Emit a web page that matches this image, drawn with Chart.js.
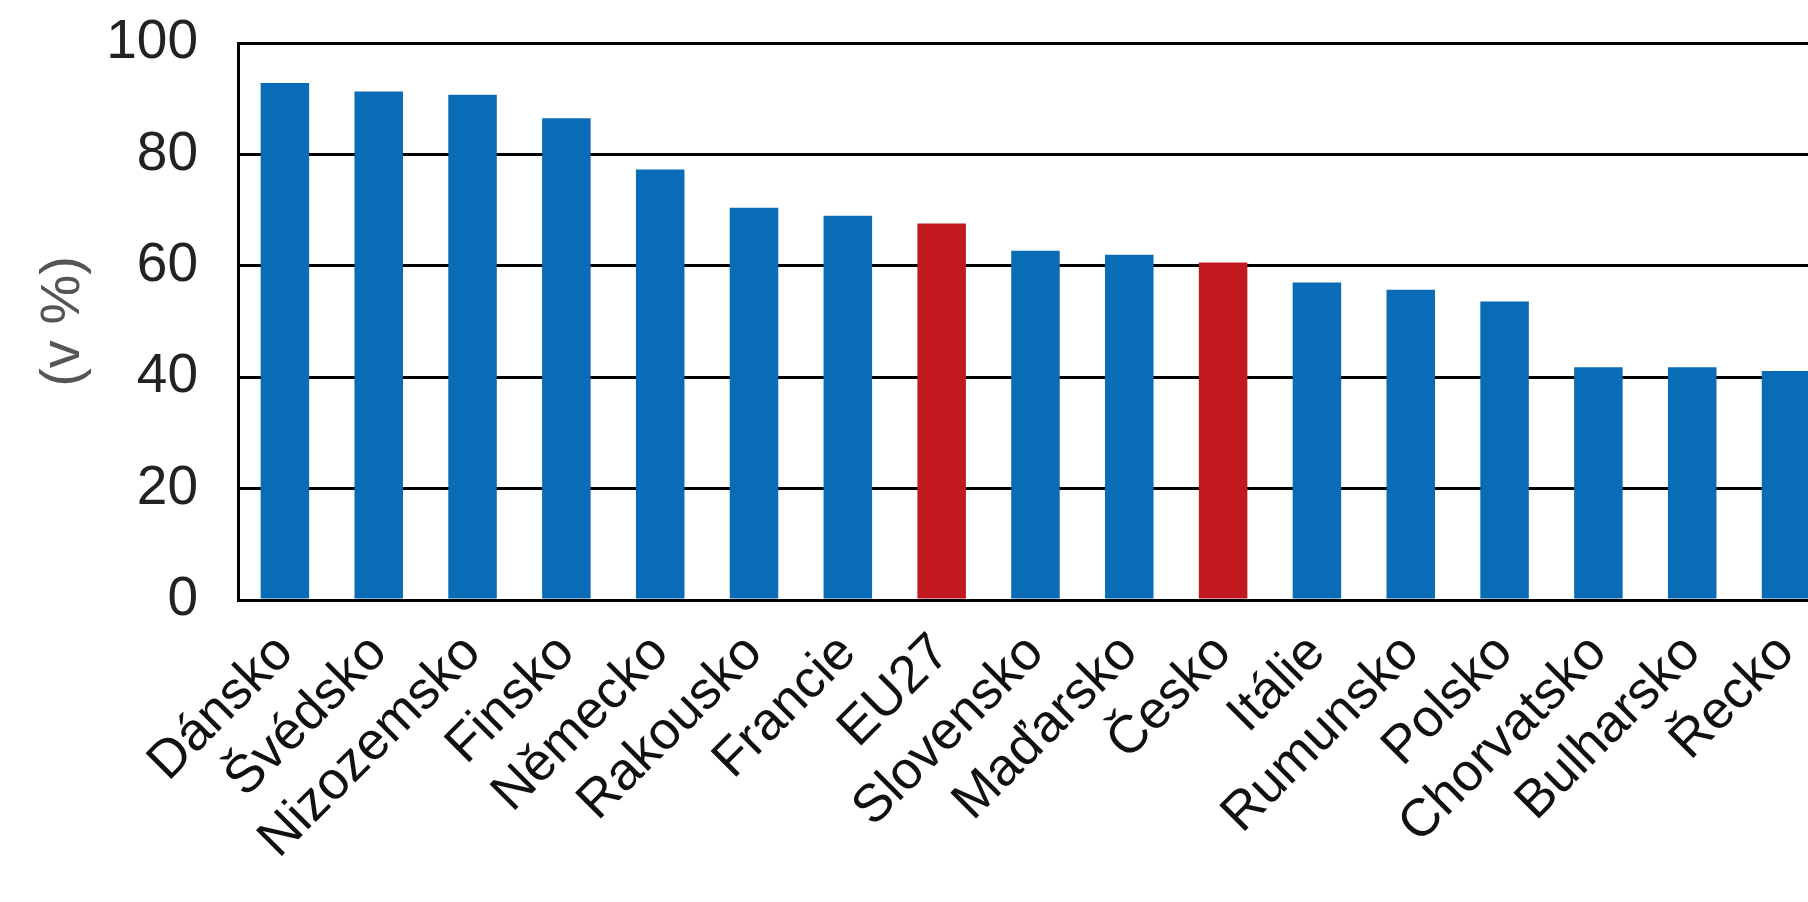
<!DOCTYPE html>
<html>
<head>
<meta charset="utf-8">
<script src="https://cdn.jsdelivr.net/npm/chart.js@4/dist/chart.umd.min.js"></script>
<style>
    html, body { margin: 0; padding: 0; background: #fff; overflow: hidden; }
    #wrap { width: 1853px; height: 902px; }
</style>
</head>
<body>
<div id="wrap"><canvas id="myChart" width="1853" height="902"></canvas></div>
<script>
const countries = ['Dánsko', 'Švédsko', 'Nizozemsko', 'Finsko', 'Německo', 'Rakousko', 'Francie', 'EU27',
    'Slovensko', 'Maďarsko', 'Česko', 'Itálie', 'Rumunsko', 'Polsko', 'Chorvatsko', 'Bulharsko', 'Řecko']
const shares = [92.8, 91.3, 90.7, 86.5, 77.3, 70.4, 69.0, 67.6, 62.7, 62.0, 60.6, 57.0, 55.7, 53.6, 41.8, 41.8, 41.1]
const highlighted = ['EU27', 'Česko']
const yTicks = [0, 20, 40, 60, 80, 100]

const blue = '#0a6bb6'
const red = '#c1191f'

const ctx = document.getElementById('myChart').getContext('2d');
const myChart = new Chart(ctx, {
    type: 'bar',
    data: {
        labels: countries,
        datasets: [{
            label: '',
            data: shares,
            backgroundColor: (c) => highlighted.includes(countries[c.dataIndex]) ? red : blue,
            barPercentage: 0.517,
            categoryPercentage: 1.0
        }]
    },
    options: {
        responsive: false,
        animation: false,
        layout: { padding: { top: 43, left: 0, right: 0, bottom: 0 } },
        plugins: {
            legend: { display: false },
            tooltip: { enabled: false }
        },
        scales: {
            x: {
                offset: true,
                grid: { display: false, drawTicks: false },
                border: { display: true, color: '#000', width: 3 },
                ticks: {
                    autoSkip: false,
                    maxRotation: 45,
                    minRotation: 45,
                    padding: 22,
                    color: '#111',
                    font: { family: 'Liberation Sans', size: 53 }
                },
                afterFit: (scale) => { scale.height = 302 }
            },
            y: {
                min: 0,
                max: 100,
                afterBuildTicks: (scale) => { scale.ticks = yTicks.map(v => ({ value: v })) },
                grid: { color: '#000', lineWidth: 3, drawTicks: false },
                border: { display: true, color: '#000', width: 3 },
                ticks: {
                    padding: 40,
                    color: '#222',
                    // small lineHeight so the top label does not push the plot down
                    font: { family: 'Liberation Sans', size: 55, lineHeight: 0.05 }
                },
                title: {
                    display: true,
                    text: '(v %)',
                    color: '#555',
                    padding: 30,
                    font: { family: 'Liberation Sans', size: 56 }
                },
                afterFit: (scale) => { scale.width = 238 }
            }
        }
    }
});
</script>
</body>
</html>
